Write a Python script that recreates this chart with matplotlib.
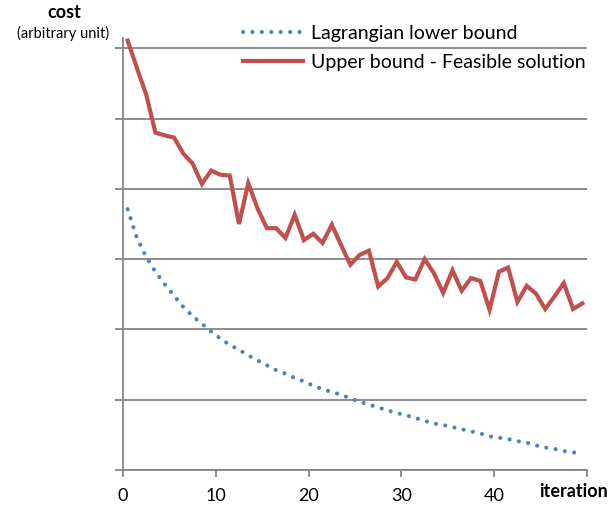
import matplotlib
matplotlib.use("Agg")
import matplotlib.pyplot as plt
import numpy as np

plt.rcParams['font.family'] = ['Lato', 'DejaVu Sans']

iterations = np.arange(1, 51)
upper_bound = [6.11, 5.72, 5.34, 4.80, 4.76, 4.73, 4.50, 4.36, 4.07, 4.26,
               4.20, 4.19, 3.50, 4.08, 3.72, 3.44, 3.44, 3.30, 3.63, 3.27,
               3.36, 3.23, 3.49, 3.20, 2.92, 3.06, 3.12, 2.61, 2.73, 2.96,
               2.74, 2.71, 3.00, 2.80, 2.52, 2.84, 2.55, 2.73, 2.69, 2.28,
               2.82, 2.88, 2.39, 2.62, 2.51, 2.29, 2.47, 2.66, 2.29, 2.37]
lower_bound = [3.71, 3.30, 3.03, 2.82, 2.64, 2.48, 2.32, 2.19, 2.08, 1.97,
               1.87, 1.78, 1.71, 1.63, 1.56, 1.49, 1.42, 1.37, 1.31, 1.26,
               1.20, 1.15, 1.11, 1.07, 1.02, 0.97, 0.93, 0.89, 0.85, 0.81,
               0.78, 0.74, 0.70, 0.66, 0.64, 0.61, 0.58, 0.55, 0.52, 0.48,
               0.46, 0.44, 0.41, 0.39, 0.35, 0.32, 0.30, 0.27, 0.25, 0.24]
x_ticks = [0, 10, 20, 30, 40, 50]
x_tick_labels = ['0', '10', '20', '30', '40', '']
y_grid = [0, 1, 2, 3, 4, 5, 6]

W, H = 612, 511
fig = plt.figure(figsize=(W / 100, H / 100), dpi=100)
ax = fig.add_axes([123 / W, 41 / H, (587 - 123) / W, (470 - 37.7) / H])

grey = '#868686'
red = '#C0504D'
blue = '#4F81BD'

xpos = iterations - 0.5
ax.plot(xpos, lower_bound, color=blue, lw=3.0, linestyle=(0, (0.01, 2.25)),
        dash_capstyle='round', label='Lagrangian lower bound', zorder=3)
ax.plot(xpos, upper_bound, color=red, lw=3.0, solid_joinstyle='miter',
        label='Upper bound - Feasible solution', zorder=3)

ax.set_xlim(0, 50)
ax.set_ylim(0, 6.15)
ax.set_xticks(x_ticks)
ax.set_xticklabels(x_tick_labels, fontsize=13, color='#000000')
ax.set_yticks(y_grid)
ax.set_yticklabels([])
ax.grid(axis='y', color=grey, lw=1.3)
ax.set_axisbelow(True)
for s in ['top', 'right']:
    ax.spines[s].set_visible(False)
for s in ['left', 'bottom']:
    ax.spines[s].set_color(grey)
    ax.spines[s].set_linewidth(1.3)
ax.tick_params(axis='x', length=5, width=1.3, color=grey, pad=8)
ax.tick_params(axis='y', length=6, width=1.3, color=grey)

fig.text(64 / W, 1 - 12 / H, 'cost', fontsize=13, fontweight='bold',
         ha='center', va='center')
fig.text(63 / W, 1 - 33 / H, '(arbitrary unit)', fontsize=10.5,
         ha='center', va='center')
fig.text(573 / W, 1 - 491 / H, 'iteration', fontsize=13, fontweight='bold',
         ha='center', va='center')

leg = fig.legend(loc='upper left', bbox_to_anchor=(243 / W, 1 - 25 / H),
                 frameon=False, fontsize=14, handlelength=3.1,
                 handletextpad=0.4, labelspacing=0.6, borderpad=0,
                 borderaxespad=0)

fig.savefig('out.png', dpi=100)
